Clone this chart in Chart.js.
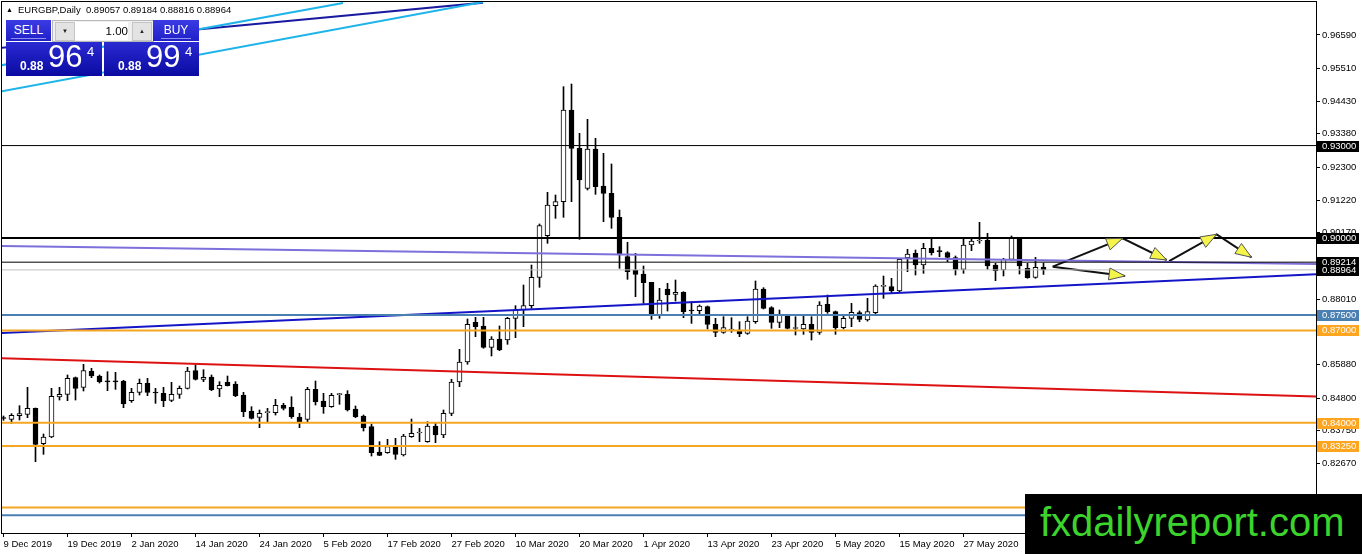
<!DOCTYPE html>
<html lang="en">
<head>
  <meta charset="UTF-8">
  <script src="https://cdn.jsdelivr.net/npm/chart.js"></script>
  <title>EURGBP,Daily</title>
  <style>
    body{margin:0; background:#fff;}
    #wrap{position:relative; width:1362px; height:554px; overflow:hidden; background:#fff;}
    #myChart{position:absolute; left:0; top:0;}
    #head{position:absolute; left:6px; top:4px; font:9.5px "Liberation Sans",sans-serif; color:#000; white-space:pre; line-height:12px;}
    #head .tri{font-size:7px; display:inline-block; width:12px; vertical-align:1px;}
    .btn{position:absolute; top:20px; height:21px; background:linear-gradient(#3b3be4,#2020c8); color:#fff;
         font:12px "Liberation Sans",sans-serif; text-align:center; line-height:21px;}
    .btn span{display:inline-block; line-height:16px; border-bottom:1px solid #8f8ff0; padding:0 3px; margin-top:1px;}
    #sell{left:6px; width:45px;}
    #buy{left:153px; width:46px;}
    #lot{position:absolute; left:52px; top:20px; width:100px; height:20px; background:#f0f0f0; border:1px solid #b8b8b8;}
    #lot .arr{position:absolute; top:1px; width:18px; height:17px; background:#e3e3e3; border:1px solid #c4c4c4; font-size:6px; text-align:center; line-height:17px; color:#222;}
    #dn{left:2px;} #up{left:79px;}
    #lotv{position:absolute; left:22px; top:1px; width:53px; height:18px; background:#fff; text-align:right; font:11.5px "Liberation Sans",sans-serif; line-height:18px;}
    .px{position:absolute; top:42px; height:34px; background:linear-gradient(#2a2ad2,#0a0aa2); color:#fff; font-family:"Liberation Sans",sans-serif;}
    .px b,.px i,.px em{position:absolute; font-style:normal; line-height:1;}
    .px b{left:14px; top:18px; font-size:12px; font-weight:bold;}
    .px i{left:42px; top:-1px; font-size:31px;}
    .px em{left:81px; top:3px; font-size:13px;}
    #sellpx{left:6px; width:96px;}
    #buypx{left:104px; width:95px;}
    #logo{position:absolute; left:1025px; top:494px; width:337px; height:60px; background:#000; color:#3cd42c;
          font:40px "Liberation Sans",Arial,sans-serif; line-height:56px; padding-left:15px; box-sizing:border-box;}
  </style>
</head>
<body>
<div id="wrap">
  <canvas id="myChart" width="1362" height="554"></canvas>
  <div id="head"><span class="tri">▲</span>EURGBP,Daily  0.89057 0.89184 0.88816 0.88964</div>
  <div class="btn" id="sell"><span>SELL</span></div>
  <div id="lot"><div class="arr" id="dn">▼</div><div id="lotv">1.00</div><div class="arr" id="up">▲</div></div>
  <div class="btn" id="buy"><span>BUY</span></div>
  <div class="px" id="sellpx"><b>0.88</b><i>96</i><em>4</em></div>
  <div class="px" id="buypx"><b>0.88</b><i>99</i><em>4</em></div>
  <div id="logo">fxdailyreport.com</div>
</div>
<script>
  // daily candles, bar 0 = 9 Dec 2019
  const openVals = [
    0.84160,0.84111,0.84230,0.84274,0.84469,0.83321,0.83538,0.84837,0.84923,0.85464,
    0.85150,0.85681,0.85518,0.85345,0.85340,0.85356,0.84718,0.84988,0.85280,0.84980,
    0.84955,0.84728,0.84923,0.85118,0.85692,0.85410,0.85486,0.85096,0.85313,0.85259,
    0.84902,0.84382,0.84177,0.84328,0.84328,0.84566,0.84501,0.84187,0.84112,0.85086,
    0.84707,0.84523,0.84913,0.84923,0.84447,0.84220,0.83874,0.83051,0.83030,0.83224,
    0.82954,0.83549,0.83668,0.83387,0.83895,0.83603,0.84306,0.85324,0.85973,0.87261,
    0.87142,0.86450,0.86720,0.86688,0.87391,0.87662,0.87802,0.88722,0.90075,0.91049,
    0.91179,0.94155,0.92910,0.91612,0.92888,0.91688,0.91450,0.90670,0.89393,0.88960,
    0.88830,0.88560,0.87499,0.88343,0.88170,0.88235,0.87640,0.87640,0.87770,0.87196,
    0.86936,0.87012,0.87012,0.86904,0.87282,0.88343,0.87737,0.87261,0.87477,0.87060,
    0.87044,0.87196,0.86936,0.87846,0.87607,0.87088,0.87391,0.87575,0.87337,0.87575,
    0.88430,0.88419,0.88278,0.89360,0.89501,0.89122,0.89664,0.89565,0.89523,0.89360,
    0.88982,0.89772,0.89902,0.89934,0.89122,0.88960,0.89306,0.89988,0.89014,0.88722,
    0.89057];
  const highVals = [
    0.84220,0.84296,0.84555,0.85150,0.84480,0.83635,0.85118,0.85150,0.85551,0.85486,
    0.85897,0.85767,0.85551,0.85659,0.85637,0.85378,0.85118,0.85421,0.85443,0.85118,
    0.85150,0.85313,0.85194,0.85800,0.85875,0.85724,0.85551,0.85334,0.85518,0.85335,
    0.84988,0.84523,0.84415,0.84469,0.84761,0.84631,0.84847,0.84306,0.85151,0.85356,
    0.84956,0.84956,0.84956,0.85043,0.84545,0.84252,0.83960,0.83387,0.83462,0.83495,
    0.83625,0.84122,0.83819,0.84036,0.83982,0.84415,0.85410,0.86385,0.87370,0.87423,
    0.87423,0.86796,0.87142,0.87423,0.87802,0.88473,0.89122,0.90454,0.91482,0.91395,
    0.94913,0.94999,0.93397,0.93852,0.93235,0.92748,0.92402,0.90908,0.89860,0.89500,
    0.89090,0.88560,0.88365,0.88527,0.88635,0.88257,0.87932,0.87824,0.87791,0.87391,
    0.87445,0.87412,0.87282,0.87445,0.88603,0.88386,0.87770,0.87661,0.87499,0.87445,
    0.87477,0.87445,0.87932,0.88148,0.87629,0.87521,0.87878,0.87630,0.88040,0.88480,
    0.88765,0.88690,0.89339,0.89631,0.89609,0.89826,0.90010,0.89718,0.89555,0.89415,
    0.89956,0.89956,0.90508,0.90150,0.89177,0.89339,0.90064,0.89988,0.89177,0.89371,
    0.89184];
  const lowVals = [
    0.84080,0.83982,0.84090,0.84166,0.82737,0.82975,0.83516,0.84739,0.84718,0.84739,
    0.85032,0.85464,0.85291,0.85042,0.85085,0.84490,0.84663,0.84901,0.84880,0.84631,
    0.84523,0.84685,0.84793,0.85096,0.85388,0.85334,0.85042,0.84847,0.85194,0.84848,
    0.84198,0.84123,0.83841,0.84004,0.84252,0.84415,0.84144,0.83841,0.84036,0.84577,
    0.84306,0.84501,0.84599,0.84382,0.84166,0.83733,0.82921,0.82932,0.83008,0.82813,
    0.82921,0.83527,0.83387,0.83365,0.83354,0.83516,0.84231,0.85172,0.85900,0.86796,
    0.86420,0.86168,0.86340,0.86547,0.86763,0.87120,0.87716,0.88398,0.89826,0.90638,
    0.90670,0.91179,0.89956,0.91558,0.91417,0.90529,0.90313,0.89014,0.88657,0.88094,
    0.87878,0.87358,0.87391,0.87629,0.87954,0.87412,0.87228,0.87499,0.87044,0.86795,
    0.86904,0.86936,0.86795,0.86871,0.87228,0.87694,0.87066,0.87088,0.87044,0.86850,
    0.86871,0.86687,0.86871,0.87553,0.86871,0.87044,0.87120,0.87280,0.87300,0.87520,
    0.88040,0.88203,0.88257,0.88906,0.88798,0.88852,0.89447,0.89393,0.89231,0.88798,
    0.88852,0.89588,0.89826,0.88982,0.88614,0.88766,0.89285,0.88830,0.88690,0.88690,
    0.88816];
  const closeVals = [
    0.84140,0.84241,0.84296,0.84469,0.83300,0.83538,0.84858,0.84923,0.85443,0.85118,
    0.85692,0.85518,0.85334,0.85330,0.85330,0.84609,0.84988,0.85280,0.84988,0.84966,
    0.84718,0.84923,0.85118,0.85681,0.85410,0.85475,0.85074,0.85215,0.85204,0.84880,
    0.84361,0.84144,0.84306,0.84339,0.84566,0.84469,0.84198,0.84036,0.85086,0.84685,
    0.84523,0.84891,0.84923,0.84415,0.84198,0.83841,0.83030,0.82943,0.83224,0.82975,
    0.83570,0.83657,0.83679,0.83895,0.83603,0.84306,0.85324,0.85973,0.87200,0.87120,
    0.86450,0.86720,0.86363,0.87391,0.87662,0.87802,0.88722,0.90399,0.91071,0.91179,
    0.94155,0.92910,0.91882,0.92888,0.91666,0.91450,0.90670,0.89447,0.88906,0.88819,
    0.88549,0.87499,0.87986,0.88148,0.88235,0.87607,0.87629,0.87791,0.87196,0.86936,
    0.87088,0.87023,0.86882,0.87304,0.88343,0.87715,0.87261,0.87499,0.87066,0.87066,
    0.87196,0.86936,0.87824,0.87607,0.87088,0.87391,0.87586,0.87358,0.87607,0.88441,
    0.88441,0.88278,0.89306,0.89480,0.89122,0.89664,0.89523,0.89555,0.89371,0.88982,
    0.89772,0.89902,0.89908,0.89090,0.88939,0.89306,0.89988,0.89090,0.88711,0.89047,
    0.88964];

  // x axis labels (bar index -> date)
  const dateIdx = [0,8,16,24,32,40,48,56,64,72,80,88,96,104,112,120];
  const dateLabels = ['9 Dec 2019','19 Dec 2019','2 Jan 2020','14 Jan 2020','24 Jan 2020','5 Feb 2020',
    '17 Feb 2020','27 Feb 2020','10 Mar 2020','20 Mar 2020','1 Apr 2020','13 Apr 2020',
    '23 Apr 2020','5 May 2020','15 May 2020','27 May 2020'];
  const yTicks = [0.96590,0.95510,0.94430,0.93380,0.92300,0.91220,0.90170,0.89090,
    0.88010,0.86950,0.85880,0.84800,0.83750,0.82670,0.81590];

  // horizontal levels
  const levelVals = [0.93000, 0.90000, 0.89214, 0.88964, 0.87500, 0.87000, 0.84000, 0.83250, 0.81250, 0.81000];
  // price tags on the right scale
  const tagVals = [0.93000, 0.90000, 0.89214, 0.88964, 0.87500, 0.87000, 0.84000, 0.83250];

  // trend lines [barIndex, price]
  const lavenderLine = [[-0.44, 0.89739], [164.06, 0.89155]];
  const blueLine     = [[-0.44, 0.86915], [164.06, 0.88824]];
  const redLine      = [[-0.44, 0.86093], [164.06, 0.84853]];
  const cyanLine1    = [[-0.44, 0.95600], [42.44, 0.97629]];
  const cyanLine2    = [[-0.44, 0.94752], [59.94, 0.97661]];
  const navyLine     = [[-0.44, 0.96168], [59.94, 0.97639]];
  // forecast arrows
  const arrowPaths = [
    [[131.15, 0.89068], [139.90, 0.89990], [145.40, 0.89285]],
    [[145.70, 0.89252], [151.65, 0.90119], [156.00, 0.89372]],
    [[131.15, 0.89068], [140.20, 0.88765]]
  ];

  const levelStyle = [['#000',1],['#000',2],['#000',1],['#c0c0c0',1],['#4a7fb2',2],
    ['#f5a623',2],['#f5a623',2],['#f5a623',2],['#f5a623',2],['#4a7fb2',2]];
  const tagStyle = [['#000','#fff'],['#000','#fff'],['#000','#fff'],['#000','#fff'],
    ['#4a7fb2','#fff'],['#ffa51f','#fff'],['#ffa51f','#fff'],['#ffa51f','#fff']];

  const FONT = '"Liberation Sans",sans-serif';
  const FSIZE = 9.5;

  function lineSet(pts, color, width){
    return {
      type: 'line',
      data: pts.map(p => ({x: p[0], y: p[1]})),
      borderColor: color, borderWidth: width,
      pointRadius: 0, fill: false, tension: 0, clip: 0, order: 0
    };
  }

  let datasets = [];
  levelVals.forEach((v, i) => {
    datasets.push(lineSet([[-1, v], [170, v]], levelStyle[i][0], levelStyle[i][1]));
  });
  datasets.push(lineSet(lavenderLine, '#7d6fdc', 2));
  datasets.push(lineSet(blueLine, '#1515c8', 2));
  datasets.push(lineSet(redLine, '#dd1111', 2));
  datasets.push(lineSet(cyanLine1, '#1eb4ea', 2));
  datasets.push(lineSet(cyanLine2, '#1eb4ea', 2));
  datasets.push(lineSet(navyLine, '#1a1aa0', 2));
  arrowPaths.forEach(p => datasets.push(lineSet(p, '#111', 2)));

  // candle bodies
  datasets.push({
    type: 'bar',
    data: openVals.map((o, i) => ({x: i, y: [o, closeVals[i]]})),
    backgroundColor: c => closeVals[c.dataIndex] >= openVals[c.dataIndex] ? '#fff' : '#000',
    borderColor: '#000', borderWidth: 1, borderSkipped: false,
    barThickness: 5, minBarLength: 1, grouped: false, order: 1
  });
  // wicks
  datasets.push({
    type: 'bar',
    data: highVals.map((h, i) => ({x: i, y: [lowVals[i], h]})),
    backgroundColor: '#000', borderWidth: 0,
    barThickness: 1, grouped: false, order: 2
  });

  const mtPlugin = {
    id: 'mt',
    afterDatasetsDraw(chart){
      const c = chart.ctx, xs = chart.scales.x, ys = chart.scales.y;
      c.save();
      arrowPaths.forEach(path => {
        for (let k = 1; k < path.length; k++){
          const x0 = xs.getPixelForValue(path[k-1][0]), y0 = ys.getPixelForValue(path[k-1][1]);
          const x1 = xs.getPixelForValue(path[k][0]),   y1 = ys.getPixelForValue(path[k][1]);
          const len = Math.hypot(x1-x0, y1-y0), ux = (x1-x0)/len, uy = (y1-y0)/len;
          const bx = x1 - ux*16, by = y1 - uy*16;
          c.beginPath();
          c.moveTo(x1, y1);
          c.lineTo(bx - uy*6, by + ux*6);
          c.lineTo(bx + uy*6, by - ux*6);
          c.closePath();
          c.fillStyle = '#f4f44a'; c.fill();
          c.strokeStyle = '#555'; c.lineWidth = 1; c.stroke();
        }
      });
      c.restore();
    },
    afterDraw(chart){
      const c = chart.ctx, a = chart.chartArea, ys = chart.scales.y;
      c.save();
      c.strokeStyle = '#000'; c.lineWidth = 1;
      c.strokeRect(a.left - 0.5, a.top - 0.5, a.right - a.left + 1, a.bottom - a.top + 1);
      c.font = FSIZE + 'px ' + FONT;
      c.textBaseline = 'middle';
      tagVals.forEach((v, i) => {
        const y = Math.round(ys.getPixelForValue(v));
        c.fillStyle = tagStyle[i][0];
        c.fillRect(a.right + 1, y - 5, 42, 11);
        c.fillStyle = tagStyle[i][1];
        c.fillText(v.toFixed(5), a.right + 6, y + 0.5);
      });
      c.restore();
    }
  };

  new Chart(document.getElementById('myChart'), {
    type: 'bar',
    data: { datasets: datasets },
    plugins: [mtPlugin],
    options: {
      responsive: false,
      animation: false,
      devicePixelRatio: 1,
      events: [],
      layout: { padding: {left: 2, top: 2, right: 0, bottom: 0}, autoPadding: false },
      plugins: { legend: {display: false}, tooltip: {enabled: false} },
      scales: {
        x: {
          type: 'linear', position: 'bottom', offset: false,
          min: -0.1875, max: 164.0625,
          afterBuildTicks: s => { s.ticks = dateIdx.map(v => ({value: v})); },
          afterFit: s => { s.height = 21; s.paddingLeft = 0; s.paddingRight = 0; },
          grid: { display: true, offset: false, drawOnChartArea: false, drawTicks: true, tickLength: 4, color: '#000' },
          border: { display: true, color: '#000', width: 1 },
          ticks: {
            autoSkip: false, maxRotation: 0, align: 'start', padding: 2, color: '#000',
            font: { family: FONT, size: FSIZE },
            callback: v => dateLabels[dateIdx.indexOf(v)]
          }
        },
        y: {
          type: 'linear', position: 'right',
          min: 0.804214, max: 0.976614,
          afterBuildTicks: s => { s.ticks = yTicks.map(v => ({value: v})); },
          afterFit: s => { s.width = 46; s.paddingTop = 0; s.paddingBottom = 0; },
          grid: { display: true, drawOnChartArea: false, drawTicks: true, tickLength: 4, color: '#000' },
          border: { display: true, color: '#000', width: 1 },
          ticks: {
            autoSkip: false, padding: 2, color: '#000',
            font: { family: FONT, size: FSIZE },
            callback: v => v.toFixed(5)
          }
        }
      }
    }
  });
</script>
</body>
</html>
